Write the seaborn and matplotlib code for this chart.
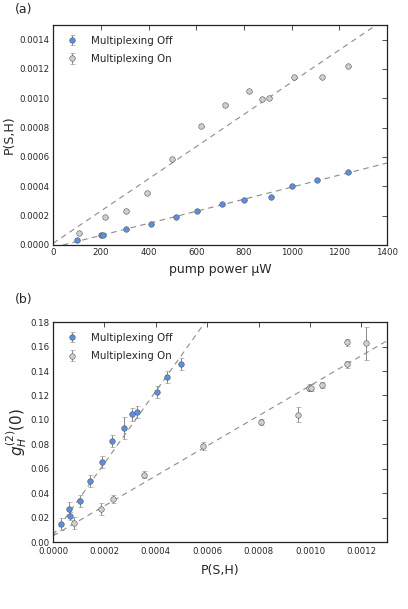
import numpy as np
import pandas as pd
import matplotlib
matplotlib.use("Agg")
import matplotlib.pyplot as plt
import seaborn as sns
from matplotlib.ticker import FormatStrFormatter

# ---- data ----
power_off = [100, 200, 210, 305, 411, 514, 604, 707, 800, 912, 1002, 1108, 1234]
p_off = [0.000030, 0.000064, 0.000065, 0.000105, 0.000143, 0.000191, 0.000230,
         0.000278, 0.000307, 0.000328, 0.000403, 0.000444, 0.000496]
power_on = [110, 217, 307, 395, 497, 620, 721, 823, 876, 905, 1009, 1125, 1234]
p_on = [0.000080, 0.000187, 0.000232, 0.000353, 0.000583, 0.000808, 0.000954,
        0.001047, 0.000995, 0.001004, 0.001145, 0.001145, 0.001218]

g2_off = [0.0145, 0.0270, 0.0213, 0.0338, 0.0499, 0.0655, 0.0826, 0.0935,
          0.1044, 0.1066, 0.1230, 0.1350, 0.1459]
g2_off_err = [0.005, 0.006, 0.003, 0.005, 0.005, 0.005, 0.005, 0.009,
              0.005, 0.005, 0.005, 0.005, 0.005]
g2_on = [0.0155, 0.0273, 0.0352, 0.0551, 0.0785, 0.0982, 0.1042, 0.1284,
         0.1265, 0.1265, 0.1456, 0.1636, 0.1628]
g2_on_err = [0.0048, 0.005, 0.0035, 0.003, 0.0035, 0.0026, 0.006, 0.0027,
             0.0027, 0.0027, 0.003, 0.003, 0.0134]

# linear fits (slope, intercept)
fit_a_off = (4.12e-7, -1.84e-5)
fit_a_on = (1.10e-6, 1.0e-5)
fit_b_off = (295.0, 0.0055)
fit_b_on = (123.0, 0.005)

labels = ["Multiplexing Off", "Multiplexing On"]

# ---- style ----
sns.set_style("white")
plt.rcParams["font.family"] = ["DejaVu Sans"]
plt.rcParams["xtick.direction"] = "in"
plt.rcParams["ytick.direction"] = "in"
plt.rcParams["xtick.top"] = True
plt.rcParams["ytick.right"] = True

blue = "#5b8fe0"
grey = "#cfcfcf"
edge = "#555555"
ecol = "#8a8a8a"
linecol = "#8c8c8c"

fig = plt.figure(figsize=(4.08, 6.09), dpi=100)
ax1 = fig.add_axes([0.130, 0.598, 0.819, 0.361])
ax2 = fig.add_axes([0.130, 0.110, 0.819, 0.361])


def fit_line(ax, xmax, fit):
    xs = np.array([0.0, xmax])
    df = pd.DataFrame({"x": xs, "y": fit[0] * xs + fit[1]})
    sns.lineplot(data=df, x="x", y="y", ax=ax, color=linecol, lw=0.8,
                 dashes=False, linestyle=(0, (5, 4)), legend=False)


def points(ax, x, y, yerr, color, label):
    ax.errorbar(x, y, yerr=yerr, fmt="o", ms=4, mfc=color, mec=edge, mew=0.4,
                ecolor=ecol, elinewidth=0.7, capsize=1.8, capthick=0.7,
                label=label, zorder=3)


def legend(ax):
    ax.legend(loc="upper left", frameon=False, fontsize=7.4, numpoints=1,
              handlelength=1.6, handletextpad=1.0, borderaxespad=0.6,
              labelspacing=0.8, borderpad=0.45)


# ---- panel (a) ----
fit_line(ax1, 1400, fit_a_off)
fit_line(ax1, 1400, fit_a_on)
points(ax1, power_off, p_off, [4e-6] * len(p_off), blue, labels[0])
points(ax1, power_on, p_on, [4e-6] * len(p_on), grey, labels[1])
ax1.set_xlim(0, 1400)
ax1.set_ylim(0, 0.0015)
ax1.set_xticks(np.arange(0, 1401, 200))
ax1.set_yticks(np.arange(0, 0.00141, 0.0002))
ax1.yaxis.set_major_formatter(FormatStrFormatter("%.4f"))
ax1.set_xlabel("pump power µW", fontsize=9, labelpad=4)
ax1.set_ylabel("P(S,H)", fontsize=9, labelpad=3)
legend(ax1)

# ---- panel (b) ----
fit_line(ax2, 0.0013, fit_b_off)
fit_line(ax2, 0.0013, fit_b_on)
points(ax2, p_off, g2_off, g2_off_err, blue, labels[0])
points(ax2, p_on, g2_on, g2_on_err, grey, labels[1])
ax2.set_xlim(0, 0.0013)
ax2.set_ylim(0, 0.18)
ax2.set_xticks(np.arange(0, 0.00121, 0.0002))
ax2.set_yticks(np.arange(0, 0.181, 0.02))
ax2.xaxis.set_major_formatter(FormatStrFormatter("%.4f"))
ax2.yaxis.set_major_formatter(FormatStrFormatter("%.2f"))
ax2.set_xlabel("P(S,H)", fontsize=9, labelpad=6)
ax2.set_ylabel(r"$g_H^{(2)}(0)$", fontsize=11, labelpad=1)
legend(ax2)

for ax in (ax1, ax2):
    ax.tick_params(labelsize=6.2, length=3.5, width=0.6, color="#333333", pad=2.5)
    for s in ax.spines.values():
        s.set_linewidth(0.9)
        s.set_color("#222222")
ax2.tick_params(axis="x", pad=3.5)

fig.text(0.037, 0.984, "(a)", fontsize=9, ha="left", va="center")
fig.text(0.037, 0.508, "(b)", fontsize=9, ha="left", va="center")

fig.savefig("out.png", dpi=100)
